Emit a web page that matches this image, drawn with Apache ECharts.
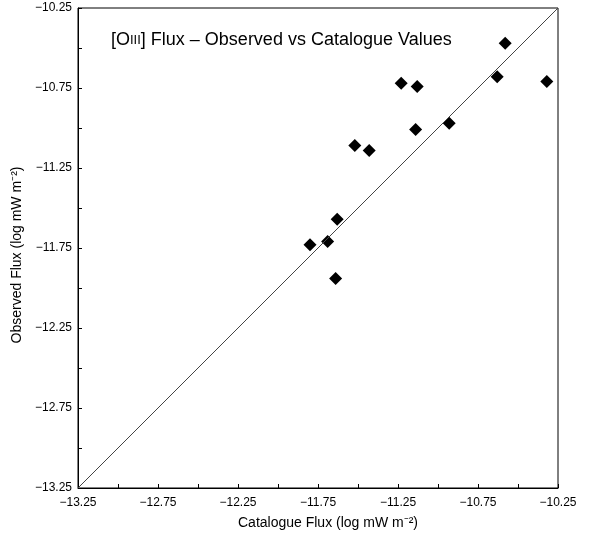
<!DOCTYPE html>
<html>
<head>
<meta charset="utf-8">
<script src="https://cdn.jsdelivr.net/npm/echarts@6/dist/echarts.min.js"></script>
<style>
  html, body { margin: 0; padding: 0; background: #fff; }
  #chart { width: 596px; height: 538px; }
</style>
</head>
<body>
<div id="chart"></div>
<script>
// [OIII] flux, observed vs catalogue (log mW m^-2)
var catalogueFlux = [-11.23, -11.13, -10.63, -10.32, -11.14, -10.93, -11.52, -11.43, -11.63, -11.69, -11.80, -11.64, -10.58];
var observedFlux  = [-10.72, -10.74, -10.68, -10.71, -11.01, -10.97, -11.11, -11.14, -11.57, -11.71, -11.73, -11.94, -10.47];
var axisMin = -13.25;
var axisMax = -10.25;
var oneToOne = [axisMin, axisMax];

var font = 'Liberation Sans, Arial, Helvetica, sans-serif';

function fmt(v) {
    return (v < 0 ? '\u2212' : '') + Math.abs(v).toFixed(2);
}

var points = catalogueFlux.map(function (c, i) {
    return [c, observedFlux[i]];
});

var myChart = echarts.init(document.getElementById('chart'));

var axisCommon = {
    type: 'value',
    min: axisMin,
    max: axisMax,
    interval: 0.5,
    nameLocation: 'middle',
    axisLine: { show: true, lineStyle: { color: '#000', width: 1 } },
    axisTick: { show: true, inside: true, length: 4, lineStyle: { color: '#000' } },
    minorTick: { show: true, splitNumber: 2, length: 4, lineStyle: { color: '#000' } },
    axisLabel: { fontFamily: font, fontSize: 12, color: '#000', formatter: fmt },
    splitLine: { show: false }
};

var option = {
    animation: false,
    backgroundColor: '#fff',
    title: {
        text: '[O{sc|III}] Flux \u2013 Observed vs Catalogue Values',
        left: 106,
        top: 25,
        textStyle: {
            fontFamily: font,
            fontSize: 18,
            fontWeight: 'normal',
            color: '#000',
            lineHeight: 20,
            rich: {
                sc: { fontFamily: font, fontSize: 13, color: '#000', lineHeight: 20, verticalAlign: 'bottom', padding: [0, 0, 3, 0] }
            }
        }
    },
    grid: {
        left: 78,
        right: 38,
        top: 8,
        bottom: 50,
        show: true,
        borderColor: '#000',
        borderWidth: 1
    },
    xAxis: Object.assign({}, axisCommon, {
        name: 'Catalogue Flux (log mW m\u207B\u00B2)',
        nameGap: 28,
        nameTextStyle: { fontFamily: font, fontSize: 14, color: '#000', padding: [0, 0, 0, 20] },
        axisLabel: Object.assign({}, axisCommon.axisLabel, { margin: 9 })
    }),
    yAxis: Object.assign({}, axisCommon, {
        name: 'Observed Flux (log mW m\u207B\u00B2)',
        nameGap: 48,
        nameTextStyle: { fontFamily: font, fontSize: 14, color: '#000', padding: [0, 14, 0, 0] },
        axisLabel: Object.assign({}, axisCommon.axisLabel, { margin: 6 })
    }),
    series: [
        {
            type: 'line',
            data: [[oneToOne[0], oneToOne[0]], [oneToOne[1], oneToOne[1]]],
            symbol: 'none',
            lineStyle: { color: '#444', width: 1 },
            silent: true
        },
        {
            type: 'scatter',
            data: points,
            symbol: 'diamond',
            symbolSize: [13, 13],
            itemStyle: { color: '#000', opacity: 1 }
        }
    ]
};

myChart.setOption(option);
</script>
</body>
</html>
